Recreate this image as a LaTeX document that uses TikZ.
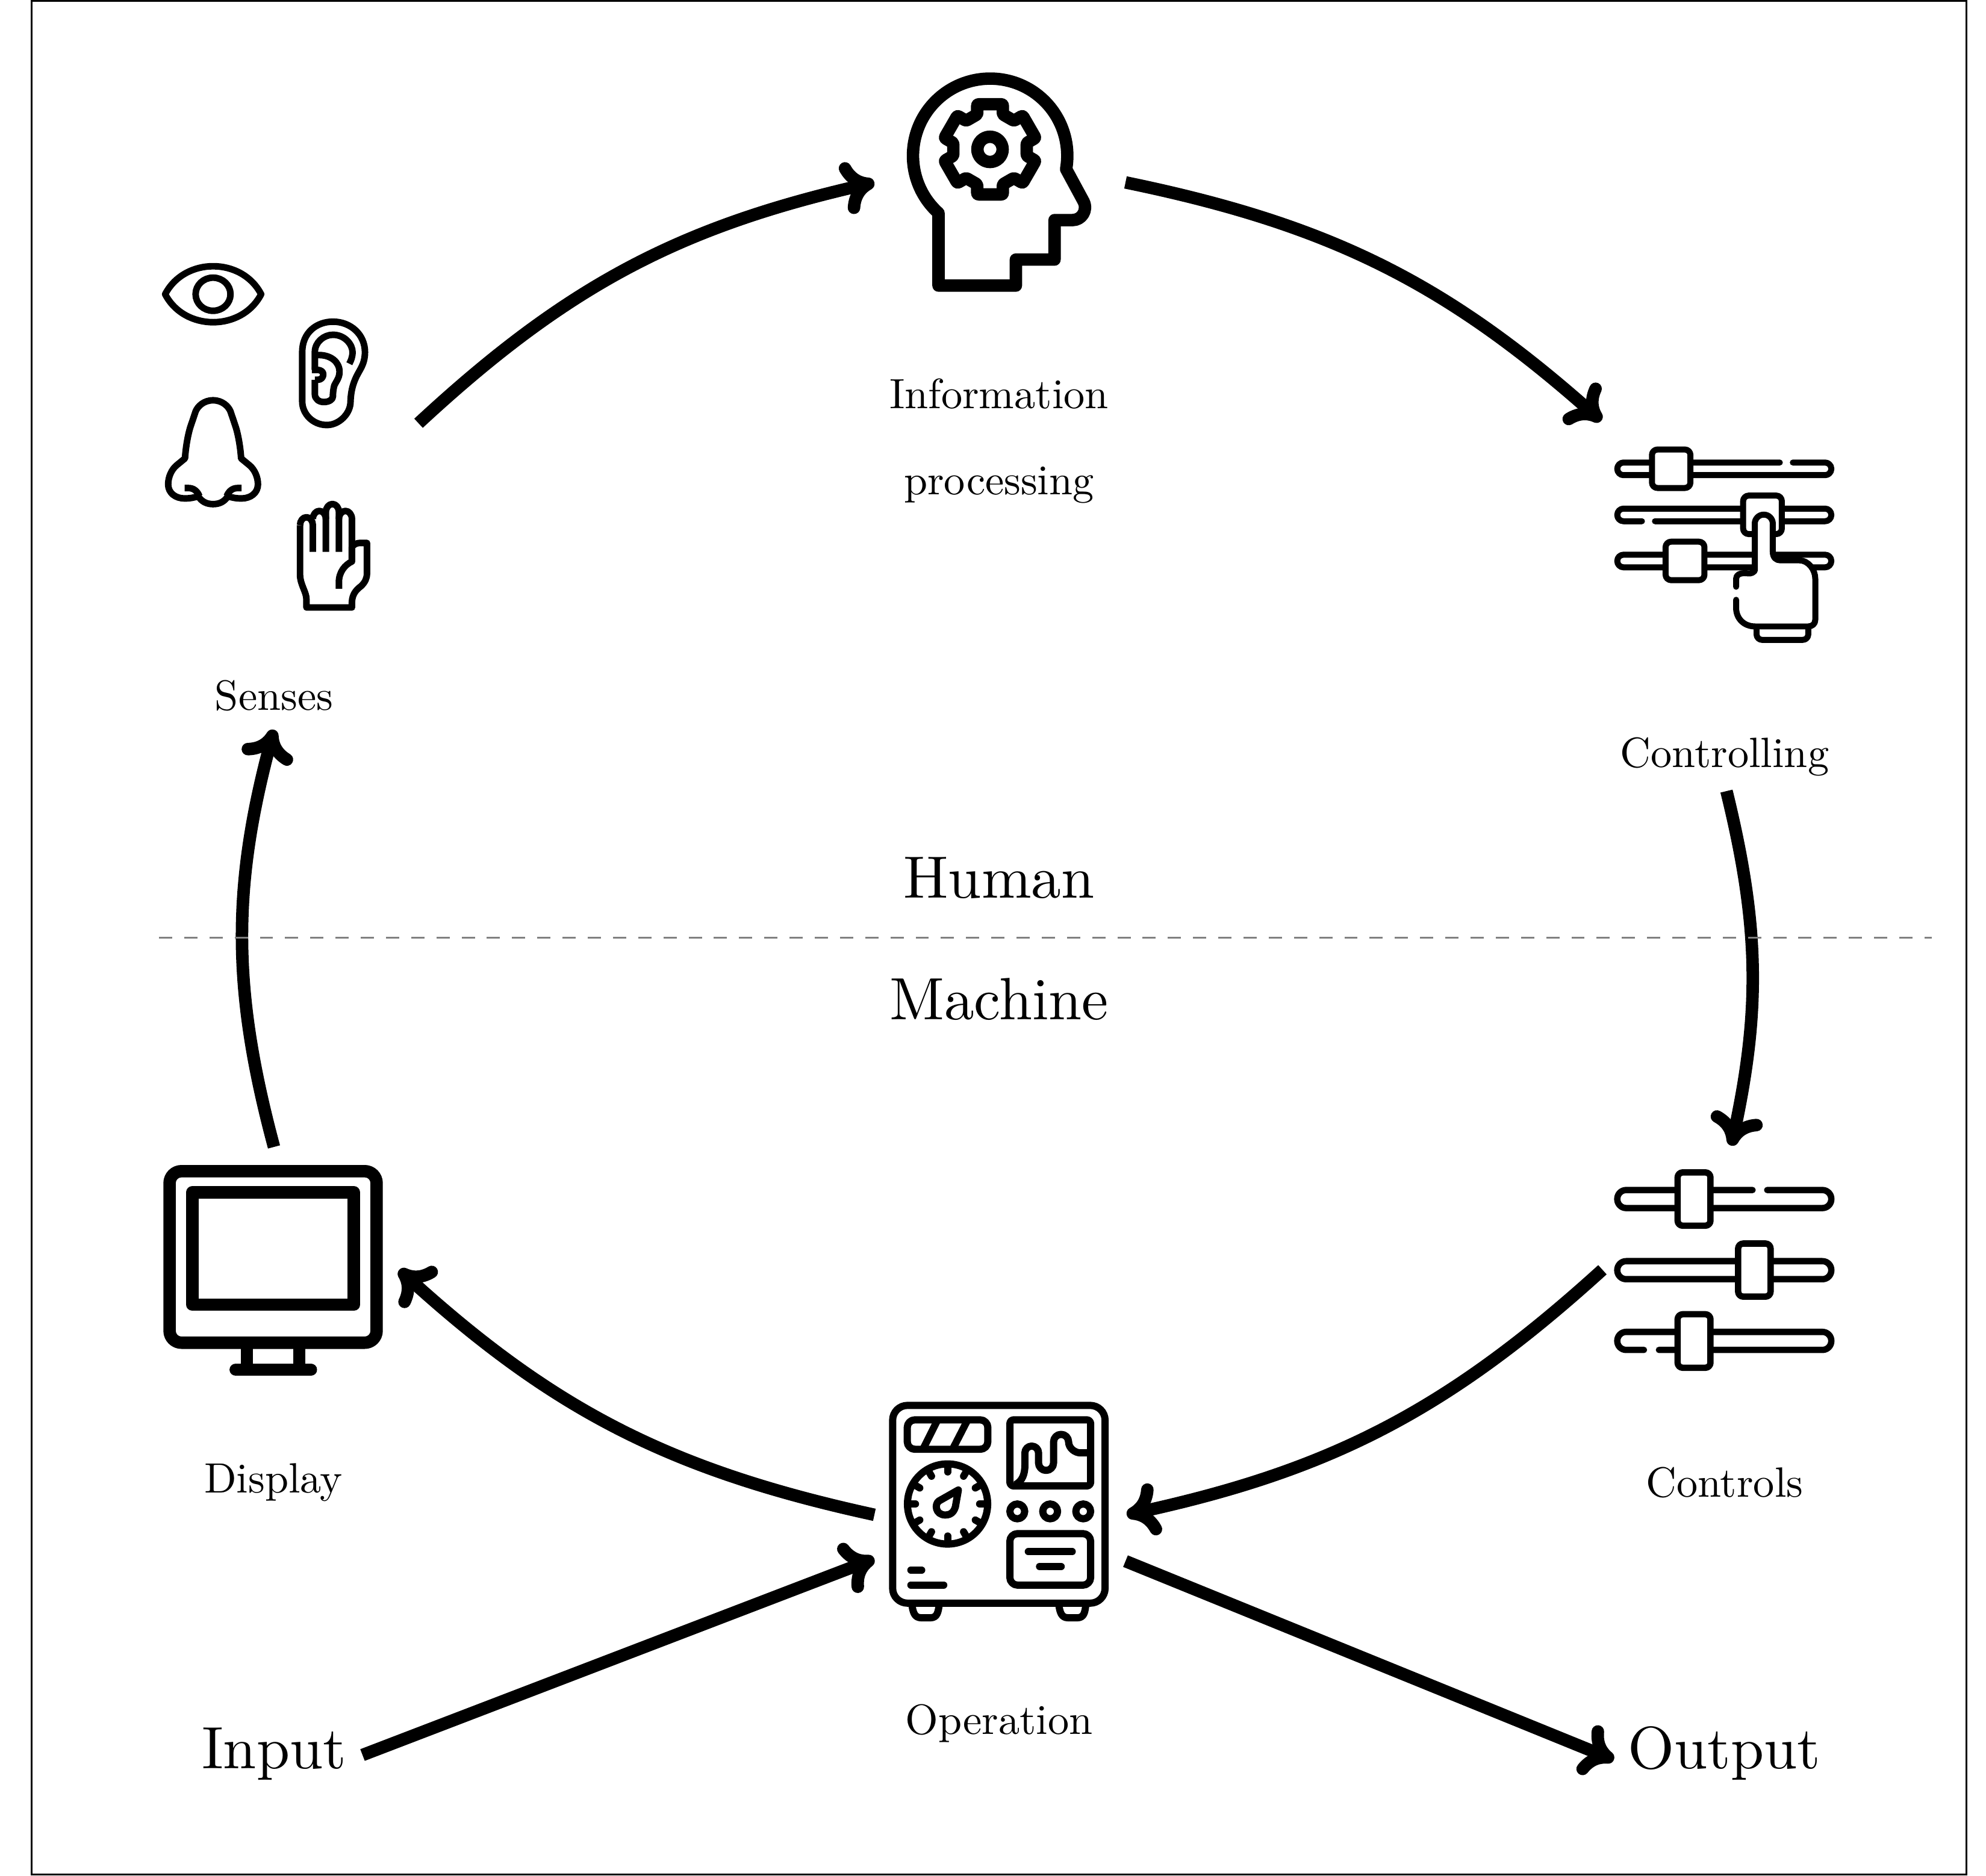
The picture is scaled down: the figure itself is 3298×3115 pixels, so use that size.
\documentclass[tikz,border=0pt]{standalone}
\usetikzlibrary{arrows.meta}
\tikzset{
  zoomed/.style={x=0.0033333cm,y=-0.0033333cm},
  ic/.style={draw=black,line join=round,line cap=butt,line width=#1},
  ic/.default=3.1pt,
  conn/.style={draw=black,line width=5.9pt,-{Computer Modern Rightarrow[length=15pt,width=25pt]}},
  small/.style={anchor=base,scale=2,inner sep=0pt},
  big/.style={anchor=base,scale=2.82,inner sep=0pt},
}
\begin{document}
\begin{tikzpicture}[x=0.01cm,y=-0.01cm]
\useasboundingbox (0,0) rectangle (3298,3115);
\draw[line width=0.85pt] (52.5,1.5) rectangle (3265,3113.5);

% named ends of the connectors
\coordinate (a1) at (695,703);   \coordinate (a2) at (1452,303);
\coordinate (b1) at (1869,303);  \coordinate (b2) at (2659,699);
\coordinate (c1) at (2867,1314); \coordinate (c2) at (2875,1903);
\coordinate (d1) at (2661,2109); \coordinate (d2) at (1871,2516);
\coordinate (e1) at (1452,2516); \coordinate (e2) at (663,2109);
\coordinate (f1) at (455,1905);  \coordinate (f2) at (455,1212);
\coordinate (g1) at (602,2915);  \coordinate (g2) at (1452,2589);
\coordinate (h1) at (1869,2593); \coordinate (h2) at (2680,2923);
\coordinate (l1) at (264,1557.5); \coordinate (l2) at (3208,1557.5);

\draw[conn] (a1) to[bend left=15] (a2);
\draw[conn] (b1) to[bend left=15] (b2);
\draw[conn] (c1) to[bend left=13] (c2);
\draw[conn] (d1) to[bend left=15] (d2);
\draw[conn] (e1) to[bend left=15] (e2);
\draw[conn] (f1) to[bend left=15] (f2);
\draw[conn] (g1) -- (g2);
\draw[conn] (h1) -- (h2);
\draw[gray,line width=0.85pt,dash pattern=on 6.24pt off 5.67pt] (l1) -- (l2);

% labels
\node[small] (info) at (1659,678) {Information};
\node[small] (proc) at (1659,821) {processing};
\node[small] (sens) at (455,1179) {Senses};
\node[small] (ctrl) at (2864,1274) {Controlling};
\node[big] (hum) at (1659,1491) {Human};
\node[big] (mach) at (1659,1693) {Machine};
\node[small] (disp) at (454,2479) {Display};
\node[small] (cons) at (2864,2486) {Controls};
\node[small] (oper) at (1659,2880) {Operation};
\node[big] (inp) at (455,2937) {Input};
\node[big] (outp) at (2863,2937) {Output};

% head with gear
\begin{scope}[shift={(1450,90)},zoomed]
\draw[ic=5.86pt] (326,1155) -- (326,793) arc[start angle=132,end angle=370,radius=385]
  -- (1050,735) .. controls (1072,780) and (1040,828) .. (995,828) -- (905,828) -- (905,1025) -- (712,1025) -- (712,1155) -- cycle;
\draw[ic=5.86pt] (583,475) circle[radius=63];
\begin{scope}[shift={(583,475)}]
\draw[ic=5.86pt,rounded corners=0.7pt] (-110.1:186)
  \foreach \a in {-90,-30,30,90,150,210} { -- ({\a-15.9}:234) -- ({\a+15.9}:234) -- ({\a+20.1}:186) -- ({\a+39.9}:186) } -- cycle;
\end{scope}
\end{scope}

% senses
\begin{scope}[shift={(230,400)},x=0.0033333cm,y=-0.0041cm]
% eye
\draw[ic] (133,216) .. controls (230,65) and (515,65) .. (612,216) .. controls (515,367) and (230,367) .. (133,216) -- cycle;
\draw[ic] (372,216) ellipse[x radius=87,y radius=67];
% ear
\draw[ic] (817,650) -- (817,450) .. controls (817,370) and (890,327) .. (970,327) .. controls (1060,327) and (1130,380) .. (1130,450)
  .. controls (1130,490) and (1112,512) .. (1100,530) .. controls (1075,565) and (1060,600) .. (1058,650)
  .. controls (1058,700) and (1000,745) .. (940,745) .. controls (870,745) and (817,700) .. (817,650) -- cycle;
\draw[ic] (880,522) -- (880,450) .. controls (880,410) and (925,380) .. (970,380) .. controls (1030,380) and (1068,420) .. (1068,450) .. controls (1068,470) and (1060,485) .. (1052,497);
\draw[ic] (880,462) -- (900,462) .. controls (960,462) and (1003,490) .. (1003,530) .. controls (1003,555) and (985,570) .. (977,585) .. controls (972,600) and (970,615) .. (970,630) .. controls (970,642) and (950,652) .. (925,652) .. controls (900,652) and (880,640) .. (880,620) -- (880,562);
\draw[ic] (865,522) -- (890,522) .. controls (912,522) and (922,530) .. (922,540) .. controls (922,552) and (912,562) .. (895,562) -- (880,562);
% nose
\draw[ic] (372,645) .. controls (325,645) and (295,670) .. (285,690) -- (258,755) .. controls (245,790) and (235,840) .. (232,880) -- (190,908)
  .. controls (165,925) and (148,955) .. (148,985) .. controls (148,1020) and (185,1042) .. (230,1042) .. controls (260,1042) and (280,1038) .. (298,1033)
  .. controls (315,1055) and (340,1065) .. (372,1065) .. controls (404,1065) and (429,1055) .. (446,1033)
  .. controls (464,1038) and (484,1042) .. (514,1042) .. controls (559,1042) and (596,1020) .. (596,985)
  .. controls (596,955) and (579,925) .. (554,908) -- (512,880) .. controls (509,840) and (499,790) .. (486,755) -- (459,690) .. controls (449,670) and (419,645) .. (372,645) -- cycle;
\draw[ic] (230,1000) -- (250,1000) .. controls (278,1000) and (295,1015) .. (304,1033);
\draw[ic] (514,1000) -- (494,1000) .. controls (466,1000) and (449,1015) .. (440,1033);
% hand
\draw[ic] (806,1150) arc[start angle=180,end angle=360,radius=32] -- (870,1258);
\draw[ic] (806,1150) -- (806,1350) .. controls (806,1390) and (838,1420) .. (838,1450) -- (838,1483) -- (1065,1483) -- (1065,1460) .. controls (1067,1430) and (1085,1412) .. (1110,1397) .. controls (1130,1382) and (1140,1365) .. (1140,1345) -- (1140,1222) -- (1105,1222) .. controls (1088,1222) and (1075,1228) .. (1065,1238);
\draw[ic] (870,1125) arc[start angle=180,end angle=360,radius=32.5];
\draw[ic] (935,1258) -- (935,1097) arc[start angle=180,end angle=360,radius=32.5] -- (1000,1258);
\draw[ic] (1000,1125) arc[start angle=180,end angle=360,radius=32.5] -- (1065,1297);
\draw[ic] (1000,1407) -- (1000,1380) .. controls (1000,1340) and (1030,1310) .. (1065,1297) -- (1065,1238);
\end{scope}

% controlling icon
\begin{scope}[shift={(2680,720)},zoomed,line cap=round]
\tikzset{railc/.style={ic=2.84pt,line cap=round,rounded corners=2.95pt},knobc/.style={ic=2.84pt,fill=white,rounded corners=2.6pt}}
\draw[railc] (828,145) -- (17,145) -- (17,208) -- (1085,208) -- (1085,145) -- (893,145);
\draw[railc] (140,438) -- (17,438) -- (17,375) -- (1085,375) -- (1085,438) -- (205,438);
\draw[railc] (17,605) rectangle (1085,668);
\draw[knobc] (190,80) rectangle (382,272);
\draw[knobc] (645,310) rectangle (838,502);
\draw[knobc] (258,540) rectangle (452,732);
\draw[ic=2.84pt,rounded corners=2.6pt] (712,965) -- (712,1030) -- (970,1030) -- (970,965);
\draw[ic=2.84pt,line cap=round,fill=white] (610,765) -- (610,725) .. controls (610,705) and (630,697) .. (650,697) .. controls (675,697) and (685,705) .. (703,685)
  -- (703,450) arc[start angle=180,end angle=360,radius=45] -- (793,590) .. controls (793,620) and (810,633) .. (830,633) -- (925,633)
  .. controls (970,633) and (1005,680) .. (1005,725) -- (1005,930) .. controls (1005,950) and (990,963) .. (970,963) -- (705,963)
  .. controls (650,963) and (610,925) .. (610,870) -- (610,830);
\end{scope}

% controls icon
\begin{scope}[shift={(2680,1930)},zoomed,line cap=round]
\tikzset{railk/.style={ic=3pt,line cap=round,rounded corners=4.2pt},knobk/.style={ic=3pt,fill=white,rounded corners=2.4pt}}
\draw[railk] (692,140) -- (17,140) -- (17,230) -- (1085,230) -- (1085,140) -- (765,140);
\draw[railk] (17,495) rectangle (1085,585);
\draw[railk] (150,938) -- (17,938) -- (17,848) -- (1085,848) -- (1085,938) -- (225,938);
\draw[knobk] (318,52) rectangle (482,318);
\draw[knobk] (620,407) rectangle (782,672);
\draw[knobk] (318,760) rectangle (482,1027);
\end{scope}

% operation icon
\begin{scope}[shift={(1470,2320)},zoomed]
\tikzset{op/.style={ic=3.4pt}}
\draw[op,rounded corners=7pt] (37,43) rectangle (1097,1030);
\draw[op] (132,1030) .. controls (138,1075) and (145,1103) .. (180,1103) -- (225,1103) .. controls (260,1103) and (265,1075) .. (270,1030);
\draw[op] (865,1030) .. controls (871,1075) and (878,1103) .. (913,1103) -- (958,1103) .. controls (993,1103) and (997,1075) .. (1002,1030);
\draw[op,rounded corners=3.6pt] (110,115) rectangle (512,262);
\draw[op] (258,122) -- (192,254);
\draw[op] (408,122) -- (340,254);
\draw[op,rounded corners=1.8pt] (622,115) rectangle (1025,445);
\draw[op] (650,438) .. controls (685,420) and (697,385) .. (697,340) -- (697,280) arc[start angle=180,end angle=360,radius=34] -- (765,330) arc[start angle=180,end angle=0,radius=37.5] -- (840,225) arc[start angle=180,end angle=360,radius=37.5] .. controls (915,255) and (945,280) .. (975,280) -- (1025,280);
\begin{scope}[shift={(311,535)}]
\draw[op] (0,0) circle[radius=200];
\foreach \a in {0,30,...,330} \draw[op,line cap=round] (\a:190) -- (\a:160);
\end{scope}
\draw[op] (365,465) -- (268,520) .. controls (245,535) and (250,590) .. (300,590) .. controls (335,590) and (345,565) .. (350,550) -- cycle;
\draw[op] (659,572) circle[radius=37];
\draw[op] (823,572) circle[radius=37];
\draw[op] (988,572) circle[radius=37];
\draw[op,rounded corners=3.6pt] (622,683) rectangle (1025,940);
\draw[op,line cap=round] (714,773) -- (933,773);
\draw[op,line cap=round] (770,847) -- (878,847);
\draw[op,line cap=round] (128,865) -- (182,865);
\draw[op,line cap=round] (128,939) -- (292,939);
\end{scope}

% display icon
\begin{scope}[shift={(250,1920)},zoomed]
\draw[ic=5.86pt,rounded corners=5.6pt] (95,76) rectangle (1128,932);
\draw[ic=5.86pt] (208,182) rectangle (1015,742);
\draw[ic=5.86pt] (481,932) -- (481,1067);
\draw[ic=5.86pt] (742,932) -- (742,1067);
\draw[ic=5.86pt,line cap=round] (425,1067) -- (800,1067);
\end{scope}
\end{tikzpicture}
\end{document}
